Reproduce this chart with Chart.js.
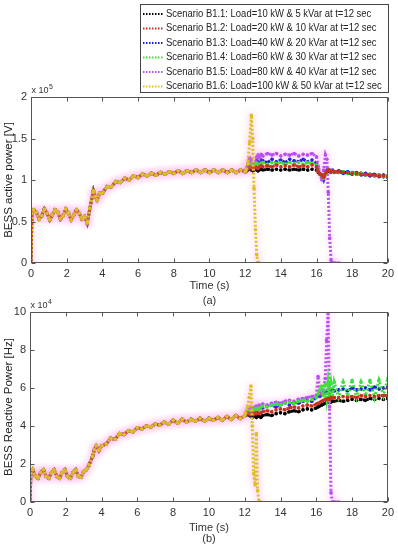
<!DOCTYPE html>
<html><head><meta charset="utf-8">
<script src="https://cdn.jsdelivr.net/npm/chart.js@4.4.1/dist/chart.umd.min.js"></script>
<style>
html,body{margin:0;padding:0;background:#fff;}
#wrap{position:relative;width:398px;height:550px;overflow:hidden;background:#fff;}
#c1{position:absolute;left:0;top:0;}
#c2{position:absolute;left:0;top:290px;}
</style></head><body>
<div id="wrap">
<canvas id="c1" width="398" height="310"></canvas>
<canvas id="c2" width="398" height="260"></canvas>
</div>
<script>
// ---------- DATA ----------
const scenarioLabels = [
  "Scenario B1.1: Load=10 kW & 5 kVar at t=12 sec",
  "Scenario B1.2: Load=20 kW & 10 kVar at t=12 sec",
  "Scenario B1.3: Load=40 kW & 20 kVar at t=12 sec",
  "Scenario B1.4: Load=60 kW & 30 kVar at t=12 sec",
  "Scenario B1.5: Load=80 kW & 40 kVar at t=12 sec",
  "Scenario B1.6: Load=100 kW & 50 kVar at t=12 sec"
];
const xTicks = [0,2,4,6,8,10,12,14,16,18,20];
const activeTicks = [0,0.5,1,1.5,2];        // x 10^5
const reactiveTicks = [0,2,4,6,8,10];       // x 10^4

// time before the load event (common to all scenarios)
const tPre = [0,0.05,0.15,0.3,0.45,0.6,0.75,0.9,1.05,1.2,1.35,1.5,1.65,1.8,1.95,2.1,2.25,2.4,2.55,2.7,2.85,3.0,3.15,3.3,3.5,3.6,3.7,3.85,4.0,4.25,4.5,4.75,5.0,5.25,5.5,5.75,6.0,6.25,6.5,6.75,7.0,7.25,7.5,7.75,8.0,8.25,8.5,8.75,9.0,9.25,9.5,9.75,10.0,10.25,10.5,10.75,11.0,11.25,11.5,11.75,12.0];
// BESS active power (x 10^5) before t=12
const activePre = [0,0.6,0.64,0.61,0.53,0.57,0.65,0.6,0.52,0.58,0.64,0.61,0.53,0.57,0.65,0.6,0.52,0.58,0.64,0.6,0.53,0.56,0.48,0.66,0.87,0.8,0.76,0.84,0.84,0.92,0.92,0.98,0.97,1.02,1.0,1.05,1.03,1.07,1.05,1.08,1.06,1.09,1.07,1.1,1.08,1.11,1.08,1.11,1.09,1.12,1.09,1.12,1.09,1.12,1.09,1.12,1.09,1.12,1.09,1.12,1.1];
// BESS reactive power (x 10^4) before t=12
const reactivePre = [0,1.5,1.7,1.35,1.25,1.55,1.7,1.35,1.25,1.55,1.7,1.35,1.25,1.55,1.7,1.35,1.25,1.55,1.7,1.35,1.3,1.6,1.7,1.95,2.4,2.75,2.95,2.7,2.95,3.05,3.35,3.3,3.6,3.55,3.75,3.7,3.9,3.85,4.0,3.95,4.1,4.05,4.2,4.1,4.3,4.15,4.35,4.2,4.35,4.25,4.4,4.25,4.4,4.3,4.45,4.3,4.5,4.35,4.55,4.4,4.55];

// time after the load event
const tPost = [12.05,12.15,12.25,12.35,12.42,12.5,12.58,12.65,12.72,12.8,12.9,13.0,13.25,13.5,13.75,14.0,14.25,14.5,14.75,15.0,15.25,15.5,15.75,16.0,16.1,16.2,16.3,16.4,16.5,16.58,16.66,16.74,16.82,16.9,17.0,17.25,17.5,17.75,18.0,18.25,18.5,18.75,19.0,19.25,19.5,19.75,20.0];

// active power after t=12 (x 10^5)
const activeB11 = [1.1,1.12,1.13,1.12,1.11,1.12,1.13,1.12,1.11,1.12,1.13,1.12,1.13,1.12,1.13,1.12,1.13,1.12,1.13,1.12,1.13,1.12,1.13,1.12,1.09,1.07,1.06,1.04,1.08,1.1,1.11,1.1,1.1,1.11,1.1,1.09,1.1,1.08,1.09,1.07,1.08,1.06,1.07,1.05,1.06,1.04,1.05];
const activeB12 = [1.11,1.14,1.16,1.15,1.14,1.15,1.16,1.15,1.14,1.16,1.17,1.16,1.17,1.16,1.18,1.16,1.17,1.16,1.18,1.16,1.17,1.16,1.18,1.16,1.1,1.07,1.06,1.03,1.08,1.11,1.12,1.11,1.1,1.11,1.1,1.1,1.09,1.09,1.08,1.08,1.07,1.07,1.06,1.06,1.05,1.05,1.04];
const activeB13 = [1.12,1.17,1.24,1.2,1.16,1.18,1.22,1.24,1.22,1.2,1.24,1.23,1.21,1.25,1.22,1.24,1.21,1.25,1.23,1.22,1.25,1.22,1.24,1.2,1.12,1.07,1.05,1.0,1.07,1.12,1.13,1.12,1.1,1.12,1.09,1.11,1.08,1.1,1.07,1.09,1.06,1.08,1.05,1.07,1.04,1.06,1.03];
const activeB14 = [1.12,1.15,1.19,1.18,1.16,1.17,1.19,1.2,1.19,1.18,1.2,1.21,1.19,1.21,1.2,1.21,1.19,1.21,1.2,1.21,1.19,1.21,1.2,1.18,1.11,1.07,1.06,1.02,1.07,1.11,1.12,1.11,1.11,1.1,1.1,1.09,1.1,1.08,1.09,1.07,1.08,1.06,1.07,1.05,1.06,1.04,1.05];
const activeB15 = [1.13,1.2,1.27,1.24,1.19,1.17,1.22,1.28,1.3,1.27,1.31,1.29,1.32,1.3,1.32,1.29,1.31,1.3,1.32,1.29,1.31,1.3,1.32,1.28,1.16,1.08,1.0,1.12,1.3,1.25,0.85,0.3,0.03,0,0,0,null,null,null,null,null,null,null,null,null,null,null];
const activeB16 = [1.12,1.2,1.45,1.78,1.5,0.9,0.4,0.1,0,0,null,null,null,null,null,null,null,null,null,null,null,null,null,null,null,null,null,null,null,null,null,null,null,null,null,null,null,null,null,null,null,null,null,null,null,null,null];

// reactive power after t=12 (x 10^4)
const reactB11 = [4.55,4.6,4.55,4.5,4.45,4.55,4.5,4.45,4.55,4.5,4.45,4.55,4.6,4.55,4.65,4.7,4.65,4.75,4.8,4.75,4.85,4.9,4.85,4.95,5.0,5.05,5.1,5.15,5.2,5.25,5.25,5.3,5.25,5.3,5.3,5.35,5.3,5.35,5.4,5.35,5.4,5.35,5.45,5.4,5.45,5.4,5.45];
const reactB12 = [4.6,4.7,4.65,4.6,4.65,4.6,4.7,4.65,4.7,4.65,4.7,4.75,4.8,4.75,4.85,4.9,4.85,4.95,5.0,4.95,5.05,5.1,5.05,5.15,5.2,5.25,5.3,5.35,5.4,5.4,5.45,5.4,5.5,5.45,5.5,5.5,5.55,5.5,5.55,5.5,5.6,5.55,5.6,5.55,5.6,5.6,5.6];
const reactB13 = [4.65,4.8,4.75,4.7,4.8,4.85,4.9,4.8,4.95,4.9,5.0,4.95,5.05,5.1,5.0,5.15,5.2,5.1,5.25,5.2,5.3,5.35,5.3,5.5,5.6,5.55,5.7,5.75,5.7,5.8,5.75,5.85,5.8,5.9,5.85,5.9,5.95,5.85,6.0,5.9,5.95,6.0,5.9,6.05,5.95,6.0,6.05];
const reactB14 = [4.7,4.75,4.8,4.75,4.85,4.8,4.9,4.85,4.95,4.9,5.0,5.05,5.0,5.1,5.15,5.1,5.2,5.25,5.2,5.3,5.35,5.3,5.4,5.5,5.7,5.9,6.1,5.6,6.2,5.5,6.3,5.6,6.2,5.5,6.3,5.5,6.3,5.6,6.4,5.5,6.3,5.6,6.4,5.5,6.4,5.6,6.5];
const reactB15 = [4.7,4.8,4.9,5.0,4.9,4.95,5.0,5.05,5.0,5.1,5.05,5.15,5.1,5.2,5.25,5.2,5.3,5.35,5.3,5.4,5.45,5.5,5.55,5.6,6.6,5.8,5.7,5.9,6.5,8.5,10.0,5.0,0.5,0,0,0,null,null,null,null,null,null,null,null,null,null,null];
const reactB16 = [4.7,5.0,5.5,6.1,4.0,1.5,0.9,3.6,0.6,0,0,null,null,null,null,null,null,null,null,null,null,null,null,null,null,null,null,null,null,null,null,null,null,null,null,null,null,null,null,null,null,null,null,null,null,null,null];

// ---------- STYLE ----------
const colors = ['#000000','#c8321e','#1a1adb','#3ee03e','#b84cf5','#dcc21e'];
const drawOrder = [6,2,5,3,4,1];
const dashOffset = [1,2,3,1,3,0];
const glow = [null,null,null,null,'rgba(255,140,230,0.6)','rgba(255,140,215,0.7)'];
const narrow = "'Liberation Sans Narrow','Arial Narrow','Liberation Sans',Arial,sans-serif";
const sans = "'Liberation Sans',Arial,sans-serif";
Chart.defaults.font.family = narrow;
Chart.defaults.color = '#333';

function series(pre, post) {
  return tPre.map((t,i)=>({x:t,y:pre[i]})).concat(tPost.map((t,i)=>({x:t,y:post[i]})));
}
function makeDatasets(pre, posts) {
  return posts.map((p,i)=>({
    label: scenarioLabels[i],
    data: series(pre,p),
    borderColor: colors[i],
    backgroundColor: colors[i],
    pointBackgroundColor: colors[i],
    pointBorderWidth: 0,
    pointRadius: 1.8,
    pointHoverRadius: 0,
    borderWidth: 3,
    borderDash: [2,2],
    borderDashOffset: dashOffset[i],
    fill: false,
    tension: 0,
    spanGaps: false,
    order: drawOrder[i]
  }));
}

const glowPlugin = {
  id: 'glow',
  beforeDatasetDraw(chart, args) {
    const g = glow[args.index];
    chart.ctx.save();
    if (g) { chart.ctx.shadowColor = g; chart.ctx.shadowBlur = 7; }
  },
  afterDatasetDraw(chart) { chart.ctx.restore(); }
};

function boxPlugin(expo) {
  return {
    id: 'box',
    afterDatasetsDraw(chart) {
      const ctx = chart.ctx;
      const {left, right, top, bottom} = chart.chartArea;
      const L = Math.round(left)+0.5, R = Math.round(right)-0.5, T = Math.round(top)+0.5, B = Math.round(bottom)-0.5;
      ctx.save();
      ctx.strokeStyle = '#555';
      ctx.lineWidth = 1;
      ctx.strokeRect(L, T, R-L, B-T);
      ctx.beginPath();
      chart.scales.x.ticks.forEach(tk => {
        const px = Math.round(chart.scales.x.getPixelForValue(tk.value))+0.5;
        ctx.moveTo(px, B); ctx.lineTo(px, B-4);
        ctx.moveTo(px, T); ctx.lineTo(px, T+4);
      });
      chart.scales.y.ticks.forEach(tk => {
        const py = Math.round(chart.scales.y.getPixelForValue(tk.value))+0.5;
        ctx.moveTo(L, py); ctx.lineTo(L+4, py);
        ctx.moveTo(R, py); ctx.lineTo(R-4, py);
      });
      ctx.stroke();
      ctx.fillStyle = '#333';
      ctx.textBaseline = 'alphabetic';
      ctx.textAlign = 'left';
      ctx.font = '9px ' + narrow;
      ctx.fillText('x 10', L, T-5);
      const w = ctx.measureText('x 10').width;
      ctx.font = '7px ' + narrow;
      ctx.fillText(expo, L + w + 0.5, T-9);
      ctx.restore();
    }
  };
}

const legendPlugin = {
  id: 'boxLegend',
  afterDraw(chart) {
    const ctx = chart.ctx;
    ctx.save();
    ctx.fillStyle = '#fff';
    ctx.fillRect(140.5, 4.5, 248, 88);
    ctx.strokeStyle = '#444';
    ctx.lineWidth = 1;
    ctx.strokeRect(140.5, 4.5, 248, 88);
    chart.data.datasets.forEach((ds, i) => {
      const y = 14 + i*14.5;
      ctx.strokeStyle = colors[i];
      ctx.lineWidth = 2;
      ctx.setLineDash([1.5,1.5]);
      ctx.beginPath(); ctx.moveTo(143, y); ctx.lineTo(163, y); ctx.stroke();
      ctx.setLineDash([]);
      ctx.fillStyle = '#222';
      ctx.font = '10px ' + sans;
      ctx.textBaseline = 'middle';
      ctx.textAlign = 'left';
      ctx.save();
      ctx.translate(166, y);
      ctx.scale(0.945, 1);
      ctx.fillText(ds.label, 0, 0);
      ctx.restore();
    });
    ctx.restore();
  }
};

function makeChart(canvasId, datasets, yMax, yTitle, xTitle, cfg) {
  return new Chart(document.getElementById(canvasId), {
    type: 'line',
    data: { datasets },
    options: {
      responsive: false,
      animation: false,
      events: [],
      layout: { padding: { top: cfg.padTop, right: 10, left: 0, bottom: 0 } },
      plugins: { legend: { display: false }, tooltip: { enabled: false } },
      scales: {
        x: {
          type: 'linear', min: 0, max: 20,
          afterBuildTicks: ax => { ax.ticks = xTicks.map(v => ({value: v})); },
          afterFit: ax => { ax.height = cfg.xH; },
          grid: { display: false, drawTicks: false },
          border: { display: false },
          ticks: { padding: 4, font: { size: 11 }, color: '#333', maxRotation: 0, callback: v => String(v) },
          title: { display: true, text: xTitle, font: { size: 11, lineHeight: cfg.titleLH }, color: '#333', padding: { top: 0, bottom: cfg.titlePB } }
        },
        y: {
          type: 'linear', min: 0, max: yMax,
          afterBuildTicks: ax => { ax.ticks = cfg.yTicks.map(v => ({value: v})); },
          afterFit: ax => { ax.width = cfg.yW; },
          grid: { display: false, drawTicks: false },
          border: { display: false },
          ticks: { padding: 4, font: { size: 11 }, color: '#333', callback: v => String(v) },
          title: { display: true, text: yTitle, font: { size: 11.5, family: sans, lineHeight: 1.2 }, color: '#222', padding: { top: 1.5, bottom: 0 } }
        }
      }
    },
    plugins: cfg.plugins
  });
}

makeChart('c1',
  makeDatasets(activePre, [activeB11, activeB12, activeB13, activeB14, activeB15, activeB16]),
  2, 'BESS active power [V]', ['Time (s)', '(a)'],
  { padTop: 97, xH: 47, yW: 31, titleLH: 1.32, titlePB: 2.1, yTicks: activeTicks,
    plugins: [glowPlugin, boxPlugin('5'), legendPlugin] });

makeChart('c2',
  makeDatasets(reactivePre, [reactB11, reactB12, reactB13, reactB14, reactB15, reactB16]),
  10, 'BESS Reactive Power [Hz]', ['Time (s)', '(b)'],
  { padTop: 22, xH: 48, yW: 30, titleLH: 1.0, titlePB: 5.5, yTicks: reactiveTicks,
    plugins: [glowPlugin, boxPlugin('4')] });
</script>
</body></html>
